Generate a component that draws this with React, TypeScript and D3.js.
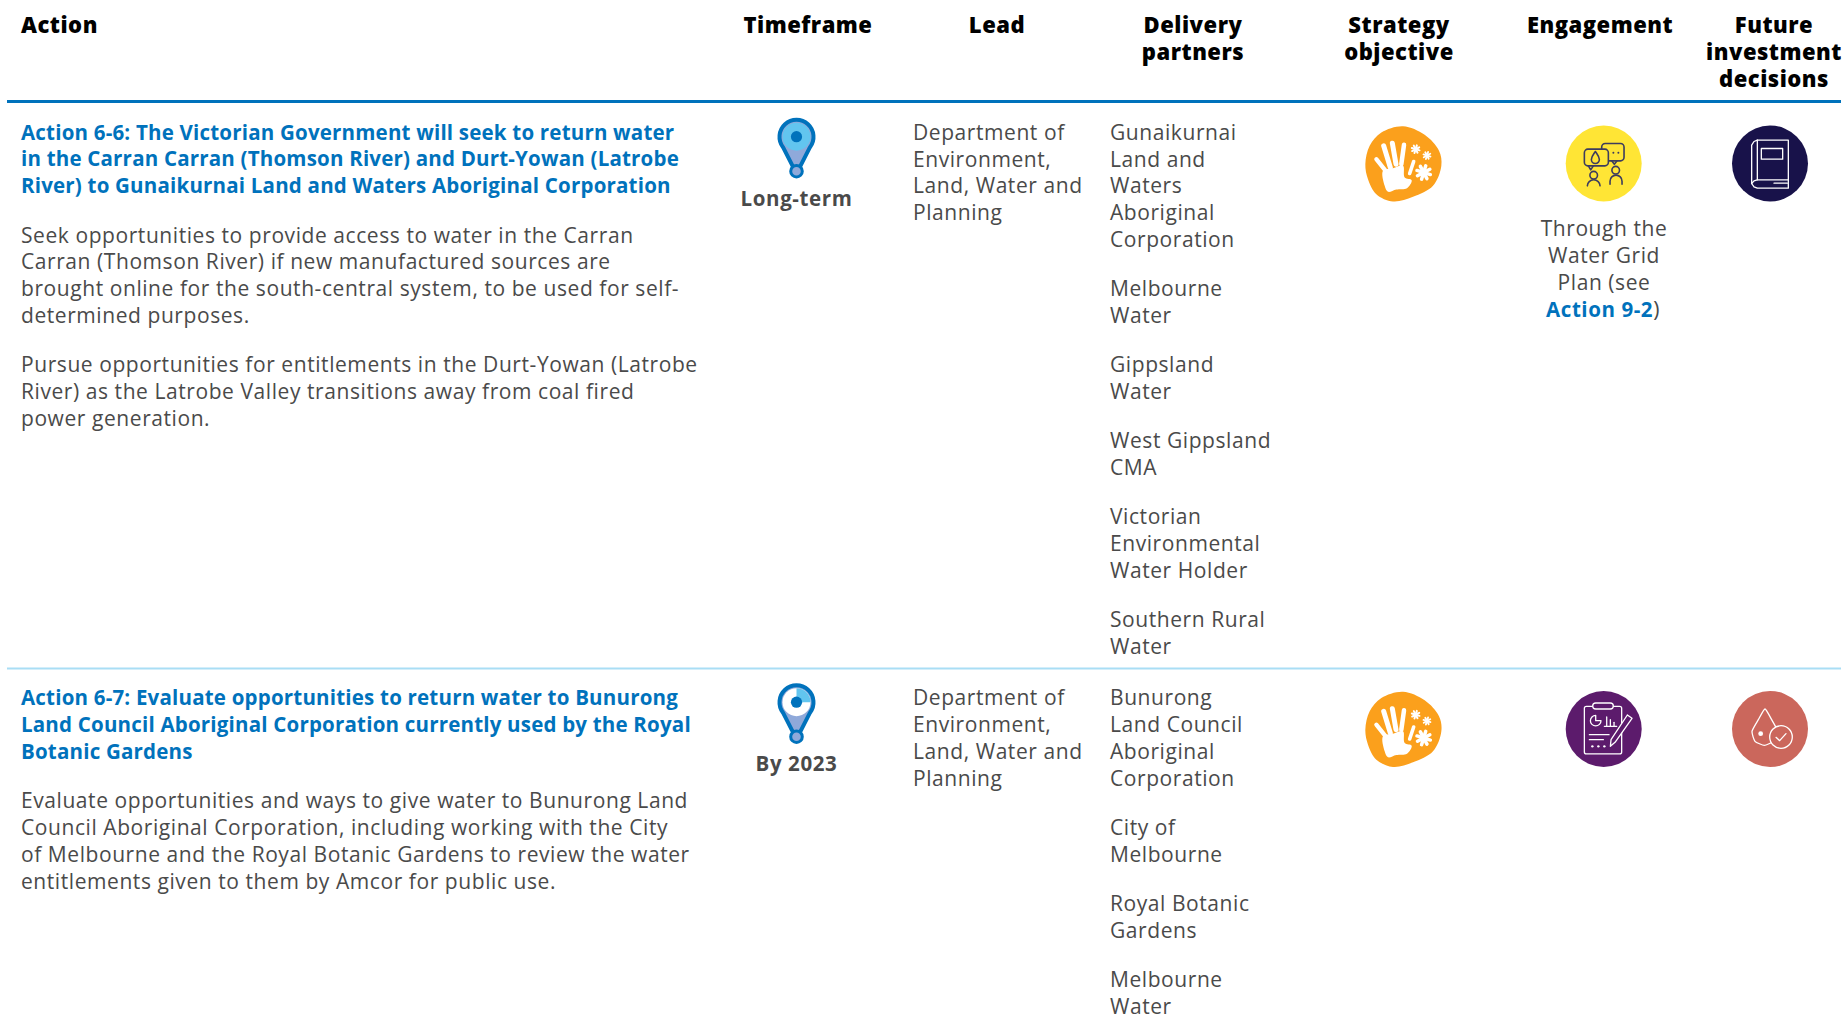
import React, { useEffect, useRef } from "react";
import * as d3 from "d3";

const WIDTH = 1843, HEIGHT = 1021;
const FONT = "'Open Sans', Lato, sans-serif";
const BLUE = "#0072bc", GREY = "#4a4a4a";

// table content
const headers = [
  { lines: ["Action"], x: 21, anchor: "start" },
  { lines: ["Timeframe"], x: 808, anchor: "middle" },
  { lines: ["Lead"], x: 997, anchor: "middle" },
  { lines: ["Delivery", "partners"], x: 1193, anchor: "middle" },
  { lines: ["Strategy", "objective"], x: 1399, anchor: "middle" },
  { lines: ["Engagement"], x: 1600, anchor: "middle" },
  { lines: ["Future", "investment", "decisions"], x: 1774, anchor: "middle" },
];

const titles = [
  ["Action 6-6: The Victorian Government will seek to return water", "in the Carran Carran (Thomson River) and Durt-Yowan (Latrobe", "River) to Gunaikurnai Land and Waters Aboriginal Corporation"],
  ["Action 6-7: Evaluate opportunities to return water to Bunurong", "Land Council Aboriginal Corporation currently used by the Royal", "Botanic Gardens"],
];
const bodies = [
  [
    ["Seek opportunities to provide access to water in the Carran", "Carran (Thomson River) if new manufactured sources are", "brought online for the south-central system, to be used for self-", "determined purposes."],
    ["Pursue opportunities for entitlements in the Durt-Yowan (Latrobe", "River) as the Latrobe Valley transitions away from coal fired", "power generation."],
  ],
  [
    ["Evaluate opportunities and ways to give water to Bunurong Land", "Council Aboriginal Corporation, including working with the City", "of Melbourne and the Royal Botanic Gardens to review the water", "entitlements given to them by Amcor for public use."],
  ],
];
const timeframes = ["Long-term", "By 2023"];
const lead = ["Department of", "Environment,", "Land, Water and", "Planning"];
const partners = [
  [
    ["Gunaikurnai", "Land and", "Waters", "Aboriginal", "Corporation"],
    ["Melbourne", "Water"],
    ["Gippsland", "Water"],
    ["West Gippsland", "CMA"],
    ["Victorian", "Environmental", "Water Holder"],
    ["Southern Rural", "Water"],
  ],
  [
    ["Bunurong", "Land Council", "Aboriginal", "Corporation"],
    ["City of", "Melbourne"],
    ["Royal Botanic", "Gardens"],
    ["Melbourne", "Water"],
  ],
];
const engagementNote = ["Through the", "Water Grid", "Plan (see"];
const rowTops = [132.5, 698];

const LINE = 26.8, PARA = 49.2;

function paragraphs(g: any, paras: string[][], x: number, y: number, attrs: any = {}) {
  let cy = y;
  paras.forEach((p) => {
    p.forEach((t, i) => {
      const el = g.append("text").attr("x", x).attr("y", cy + i * LINE).attr("dy", "0.35em").text(t);
      Object.entries(attrs).forEach(([k, v]) => el.attr(k, v as any));
    });
    cy += (p.length - 1) * LINE + PARA;
  });
  return cy;
}

// icon sketches use the zoomed crop coordinates, centred on the disc
const local = (cx: number, cy: number) => (x: number, y: number): [number, number] => [(x - cx) / 3, (y - cy) / 3];

function handIcon(g: any) {
  const p = local(160, 158);
  const blob = [[95, 65], [160, 46], [225, 72], [268, 120], [275, 165], [250, 225], [190, 258], [130, 272], [80, 250], [55, 205], [47, 160], [60, 105]].map((d) => p(d[0], d[1]));
  const closed = d3.line().curve(d3.curveCatmullRomClosed);
  g.append("path").attr("d", closed(blob)).attr("fill", "#fba01c");
  const palm = [[100, 180], [130, 172], [160, 165], [165, 200], [186, 208], [172, 232], [140, 236], [115, 243], [105, 225]].map((d) => p(d[0], d[1]));
  g.append("path").attr("d", closed(palm)).attr("fill", "#fff");
  [[[108, 180], [80, 145], 4.2], [[122, 170], [102, 105], 5], [[139, 160], [128, 97], 5], [[155, 160], [163, 102], 4.5], [[180, 188], [192, 152], 3.6]].forEach(([a, b, w]: any) => {
    const [x1, y1] = p(a[0], a[1]), [x2, y2] = p(b[0], b[1]);
    g.append("line").attr("x1", x1).attr("y1", y1).attr("x2", x2).attr("y2", y2)
      .attr("stroke", "#fff").attr("stroke-width", w).attr("stroke-linecap", "round");
  });
  [[198, 115, 12], [232, 134, 11], [222, 185, 21]].forEach(([sx, sy, r]) => {
    const [cx, cy] = p(sx, sy);
    d3.range(4).forEach((i) => {
      const a = (i * Math.PI) / 4 + 0.3, d = r / 3;
      g.append("line").attr("x1", cx - d * Math.cos(a)).attr("y1", cy - d * Math.sin(a))
        .attr("x2", cx + d * Math.cos(a)).attr("y2", cy + d * Math.sin(a))
        .attr("stroke", "#fff").attr("stroke-width", r / 6).attr("stroke-linecap", "round");
    });
  });
}

function disc(g: any, fill: string) {
  g.append("circle").attr("r", 38).attr("fill", fill);
}

function outline(g: any, stroke: string, w = 1.4) {
  return g.append("g").attr("fill", "none").attr("stroke", stroke).attr("stroke-width", w)
    .attr("stroke-linecap", "round").attr("stroke-linejoin", "round");
}

function talkIcon(g: any) {
  disc(g, "#ffe535");
  const o = outline(g, "#3d3c5e", 1.6), p = local(761, 158);
  const rect = (x0: number, y0: number, x1: number, y1: number, rx: number) => {
    const [x, y] = p(x0, y0);
    return o.append("rect").attr("x", x).attr("y", y).attr("width", (x1 - x0) / 3).attr("height", (y1 - y0) / 3).attr("rx", rx);
  };
  const poly = (pts: number[][]) => o.append("path").attr("d", d3.line()(pts.map((d) => p(d[0], d[1]))));
  rect(755, 98, 822, 150, 3.5);
  rect(703, 115, 775, 165, 3.5).attr("fill", "#ffe535");
  poly([[715, 165], [722, 177], [730, 165]]);
  poly([[785, 150], [793, 160], [801, 150]]);
  const [hx, hy] = p(731, 193), [h2x, h2y] = p(797, 178);
  o.append("circle").attr("cx", hx).attr("cy", hy).attr("r", 3.8);
  o.append("circle").attr("cx", h2x).attr("cy", h2y).attr("r", 3.8);
  const [ax, ay] = p(712, 225), [bx] = p(750, 225), [cx, cy] = p(780, 220), [dx] = p(816, 220);
  o.append("path").attr("d", `M${ax},${ay} a6.3,6 0 0 1 ${bx - ax},0`);
  o.append("path").attr("d", `M${cx},${cy} v-3 a6,6 0 0 1 ${dx - cx},0 v3`);
  const [tx, ty] = p(736, 140);
  o.append("path").attr("d", `M${tx},${ty - 6} c2,3 4,5 4,8 a4,4 0 0 1 -8,0 c0,-3 2,-5 4,-8 z`);
  [790, 805].forEach((x) => {
    const [px, py] = p(x, 126);
    g.append("circle").attr("cx", px).attr("cy", py).attr("r", 1).attr("fill", "#3d3c5e");
  });
}

function bookIcon(g: any) {
  disc(g, "#18124a");
  const o = outline(g, "#fff", 1.3), p = local(1260, 158);
  const poly = (pts: number[][]) => o.append("path").attr("d", d3.line()(pts.map((d) => p(d[0], d[1]))));
  poly([[1222, 88], [1315, 88], [1315, 207], [1222, 207]]);
  poly([[1222, 88], [1212, 92], [1205, 103], [1205, 218], [1212, 228], [1222, 232], [1315, 232], [1315, 207]]);
  poly([[1222, 88], [1222, 207], [1212, 210], [1205, 218]]);
  poly([[1272, 217], [1312, 217]]);
  poly([[1234, 113], [1298, 113], [1298, 145], [1234, 145], [1234, 113]]);
}

function clipboardIcon(g: any) {
  disc(g, "#5c1b6c");
  const o = outline(g, "#fff", 1.3), p = local(761, 158);
  const poly = (pts: number[][]) => o.append("path").attr("d", d3.line()(pts.map((d) => p(d[0], d[1]))));
  const [x, y] = p(703, 90);
  o.append("rect").attr("x", x).attr("y", y).attr("width", 37.3).attr("height", 47.6).attr("rx", 2);
  const [cx, cy] = p(728, 80);
  o.append("rect").attr("x", cx).attr("y", cy).attr("width", 20.6).attr("height", 6).attr("rx", 3).attr("fill", "#5c1b6c");
  const [px, py] = p(737, 133);
  o.append("path").attr("d", `M${px},${py - 5.3} a5.3,5.3 0 1 0 5.3,5.3 h-5.3 z`);
  poly([[763, 150], [800, 150]]);
  poly([[770, 148], [770, 122]]); poly([[781, 148], [781, 130]]); poly([[792, 148], [792, 138]]);
  poly([[718, 175], [777, 175]]); poly([[718, 190], [760, 190]]);
  [727, 745, 763].forEach((d) => {
    const [dx, dy] = p(d, 210);
    g.append("circle").attr("cx", dx).attr("cy", dy).attr("r", 1.2).attr("fill", "#fff");
  });
  const pencil = [[832, 116], [846, 126], [795, 198], [781, 210], [783, 190], [832, 116]];
  o.append("path").attr("d", d3.line()(pencil.map((d) => p(d[0], d[1])))).attr("fill", "#5c1b6c");
}

function dropIcon(g: any) {
  disc(g, "#cb675c");
  const o = outline(g, "#fff", 1.3), p = local(1260, 158);
  const pts = [[1245, 98], [1225, 130], [1206, 165], [1215, 195], [1243, 207], [1270, 195], [1283, 165], [1265, 130]].map((d) => p(d[0], d[1]));
  o.append("path").attr("d", d3.line().curve(d3.curveCardinalClosed.tension(0.5))(pts));
  const [cx, cy] = p(1293, 182);
  o.append("circle").attr("cx", cx).attr("cy", cy).attr("r", 11.3).attr("fill", "#cb675c");
  o.append("path").attr("d", d3.line()([p(1278, 183), p(1289, 193), p(1308, 172)]));
  const [dx, dy] = p(1232, 172);
  g.append("circle").attr("cx", dx).attr("cy", dy).attr("r", 2.4).attr("fill", "#fff");
}

function pinIcon(g: any, partial: boolean) {
  // head r 17 outline, tapered tail, small circle below
  g.append("path")
    .attr("d", "M0,37 L-13.5,10.5 A17,17 0 1 1 13.5,10.5 Z")
    .attr("fill", "#8fa9da").attr("stroke", BLUE).attr("stroke-width", 4).attr("stroke-linejoin", "round");
  g.append("circle").attr("cy", 34.5).attr("r", 5.8).attr("fill", "#8fa9da").attr("stroke", BLUE).attr("stroke-width", 3);
  if (partial) {
    g.append("circle").attr("r", 14).attr("fill", "#fff");
    g.append("path").attr("d", d3.arc()({ innerRadius: 0, outerRadius: 14, startAngle: 0, endAngle: Math.PI / 2 } as any)).attr("fill", "#62c5ef");
  } else {
    g.append("circle").attr("r", 14).attr("fill", "#62c5ef");
  }
  g.append("circle").attr("r", 5.6).attr("fill", BLUE);
}

export default function App() {
  const ref = useRef<SVGSVGElement>(null);

  useEffect(() => {
    const svg = d3.select(ref.current);
    svg.selectAll("*").remove();
    const root = svg.append("g").attr("font-family", FONT);

    // header row
    const head = root.append("g").attr("font-size", 22).attr("font-weight", 800).attr("letter-spacing", 0.5).attr("fill", "#000");
    headers.forEach((h) => {
      h.lines.forEach((t, i) => {
        head.append("text").attr("x", h.x).attr("y", 25 + i * 27).attr("dy", "0.35em").attr("text-anchor", h.anchor).text(t);
      });
    });

    root.append("line").attr("x1", 7).attr("x2", 1841).attr("y1", 101.5).attr("y2", 101.5).attr("stroke", BLUE).attr("stroke-width", 3);
    root.append("line").attr("x1", 7).attr("x2", 1841).attr("y1", 668.5).attr("y2", 668.5).attr("stroke", "#a9def5").attr("stroke-width", 2);

    rowTops.forEach((top, r) => {
      const row = root.append("g").attr("font-size", 21).attr("letter-spacing", 0.57).attr("fill", GREY);
      const next = paragraphs(row, [titles[r]], 21, top, { "font-weight": 700, fill: BLUE, "font-size": 20.5, "letter-spacing": 0.2 });
      paragraphs(row, bodies[r], 21, next);
      paragraphs(row, [lead], 913, top);
      paragraphs(row, partners[r], 1110, top);

      const dy = top - rowTops[0];
      pinIcon(row.append("g").attr("transform", `translate(796.5,${136.7 + dy})`), r === 1);
      row.append("text").attr("x", 796.5).attr("y", 198.5 + dy).attr("dy", "0.35em").attr("text-anchor", "middle").attr("font-weight", 700).attr("font-size", 20.5).attr("letter-spacing", 0.6).text(timeframes[r]);

      handIcon(row.append("g").attr("transform", `translate(1403,${163.5 + dy})`));
      const eng = row.append("g").attr("transform", `translate(1603.7,${163.5 + dy})`);
      const fut = row.append("g").attr("transform", `translate(1770,${163.5 + dy})`);
      if (r === 0) {
        talkIcon(eng);
        bookIcon(fut);
        engagementNote.forEach((t, i) => {
          row.append("text").attr("x", 1604).attr("y", 229 + i * LINE).attr("dy", "0.35em").attr("text-anchor", "middle").text(t);
        });
        const last = row.append("text").attr("x", 1603).attr("y", 229 + 3 * LINE).attr("dy", "0.35em").attr("text-anchor", "middle");
        last.append("tspan").attr("fill", BLUE).attr("font-weight", 700).attr("font-size", 20.5).text("Action 9-2");
        last.append("tspan").text(")");
      } else {
        clipboardIcon(eng);
        dropIcon(fut);
      }
    });
  }, []);

  return <svg ref={ref} width={WIDTH} height={HEIGHT} style={{ position: "absolute", left: 0, top: 0, background: "#fff" }} />;
}
